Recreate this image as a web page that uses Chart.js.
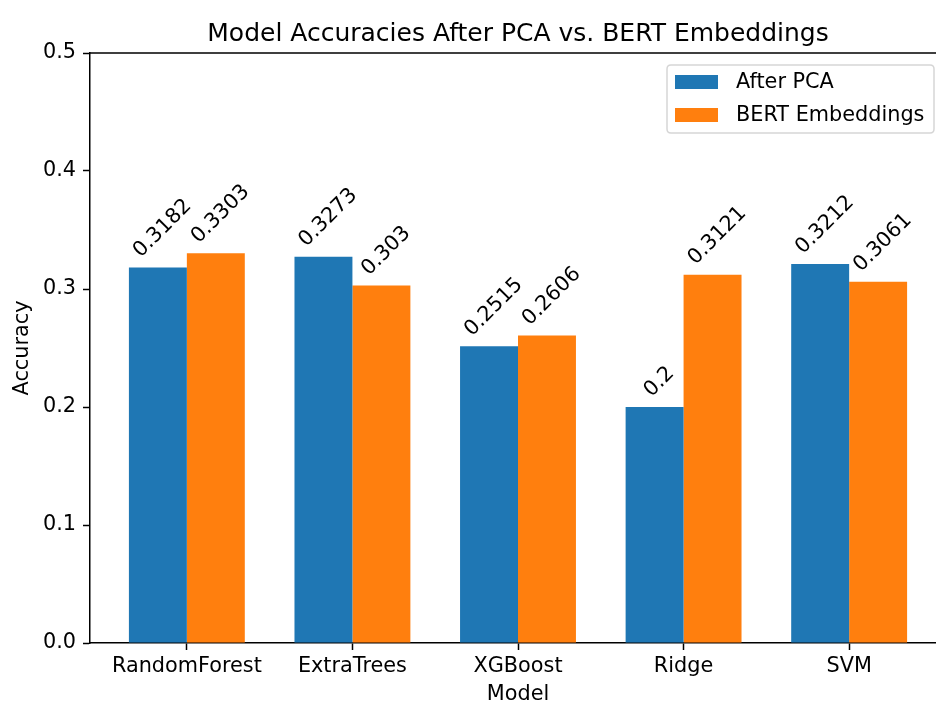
<!DOCTYPE html>
<html>
<head>
<meta charset="utf-8">
<script src="https://cdn.jsdelivr.net/npm/chart.js@4/dist/chart.umd.min.js"></script>
<style>
  html, body { margin: 0; padding: 0; background: #fff; overflow: hidden; width: 936px; height: 704px; }
  canvas { display: block; }
</style>
</head>
<body>
<canvas id="c" width="960" height="704" style="width:960px;height:704px"></canvas>
<script>
const categories = ['RandomForest', 'ExtraTrees', 'XGBoost', 'Ridge', 'SVM'];
const afterPCA = [0.3182, 0.3273, 0.2515, 0.2, 0.3212];
const bertEmbeddings = [0.3303, 0.303, 0.2606, 0.3121, 0.3061];
const seriesNames = ['After PCA', 'BERT Embeddings'];
const yTicks = [0.0, 0.1, 0.2, 0.3, 0.4, 0.5];
const titleText = 'Model Accuracies After PCA vs. BERT Embeddings';
const xTitle = 'Model';
const yTitle = 'Accuracy';

const FONT = '"DejaVu Sans", sans-serif';
const FS = 20.8;
const TFS = 25;
const colors = ['#1f77b4', '#ff7f0e'];

const overlay = {
  id: 'overlay',
  afterDraw(chart) {
    const ctx = chart.ctx;
    const a = chart.chartArea;
    ctx.save();
    ctx.strokeStyle = '#000';
    ctx.lineWidth = 1.5;
    ctx.beginPath();
    ctx.moveTo(a.left, a.top);
    ctx.lineTo(a.right, a.top);
    ctx.lineTo(a.right, a.bottom);
    ctx.stroke();

    ctx.fillStyle = '#000';
    ctx.font = TFS + 'px ' + FONT;
    ctx.textAlign = 'center';
    ctx.textBaseline = 'alphabetic';
    ctx.fillText(titleText, (a.left + a.right) / 2, 41);

    ctx.font = FS + 'px ' + FONT;
    ctx.fillText(xTitle, (a.left + a.right) / 2, 700);
    ctx.save();
    ctx.translate(28, (a.top + a.bottom) / 2);
    ctx.rotate(-Math.PI / 2);
    ctx.fillText(yTitle, 0, 0);
    ctx.restore();

    ctx.font = FS + 'px ' + FONT;
    chart.data.datasets.forEach((ds, di) => {
      const meta = chart.getDatasetMeta(di);
      meta.data.forEach((bar, i) => {
        const txt = String(ds.data[i].y);
        const w = ctx.measureText(txt).width;
        const h = 1.164 * FS;
        const D = (w + h) / Math.SQRT2;
        const cy = bar.y - 6 - D / 2;
        ctx.save();
        ctx.translate(bar.x + 3.5, cy);
        ctx.rotate(-Math.PI / 4);
        ctx.textAlign = 'center';
        ctx.textBaseline = 'alphabetic';
        ctx.fillText(txt, 0, 0.346 * FS);
        ctx.restore();
      });
    });

    const lx = 667, ly = 65, lw = 267, lh = 68, r = 4;
    ctx.fillStyle = 'rgba(255,255,255,0.8)';
    ctx.strokeStyle = '#d6d6d6';
    ctx.lineWidth = 1.5;
    ctx.beginPath();
    ctx.moveTo(lx + r, ly);
    ctx.lineTo(lx + lw - r, ly);
    ctx.quadraticCurveTo(lx + lw, ly, lx + lw, ly + r);
    ctx.lineTo(lx + lw, ly + lh - r);
    ctx.quadraticCurveTo(lx + lw, ly + lh, lx + lw - r, ly + lh);
    ctx.lineTo(lx + r, ly + lh);
    ctx.quadraticCurveTo(lx, ly + lh, lx, ly + lh - r);
    ctx.lineTo(lx, ly + r);
    ctx.quadraticCurveTo(lx, ly, lx + r, ly);
    ctx.closePath();
    ctx.fill();
    ctx.stroke();
    ctx.font = FS + 'px ' + FONT;
    ctx.textAlign = 'left';
    ctx.textBaseline = 'middle';
    chart.data.datasets.forEach((ds, di) => {
      const yc = 82 + di * 33;
      ctx.fillStyle = ds.backgroundColor;
      ctx.fillRect(675, yc - 7, 43, 14);
      ctx.fillStyle = '#000';
      ctx.fillText(ds.label, 736, yc + 1);
    });
    ctx.restore();
  }
};

new Chart(document.getElementById('c'), {
  type: 'bar',
  data: {
    datasets: [
      { label: seriesNames[0], data: afterPCA.map((v, i) => ({ x: i, y: v })), backgroundColor: colors[0], borderWidth: 0 },
      { label: seriesNames[1], data: bertEmbeddings.map((v, i) => ({ x: i, y: v })), backgroundColor: colors[1], borderWidth: 0 }
    ]
  },
  options: {
    responsive: false,
    animation: false,
    devicePixelRatio: 1,
    categoryPercentage: 0.7,
    barPercentage: 1.0,
    layout: { padding: { top: 53, right: 14, bottom: 0, left: 0 } },
    plugins: { legend: { display: false }, title: { display: false }, tooltip: { enabled: false } },
    scales: {
      x: {
        type: 'linear',
        offset: false,
        min: -0.585,
        max: 4.585,
        afterBuildTicks: (s) => { s.ticks = categories.map((_, i) => ({ value: i })); },
        afterFit: (s) => { s.height = 61; },
        grid: { offset: false, drawOnChartArea: false, drawTicks: true, tickLength: 7, tickWidth: 1.5, tickColor: '#000' },
        border: { display: true, color: '#000', width: 1.5 },
        ticks: {
          padding: 4,
          color: '#000',
          font: { family: FONT, size: FS },
          maxRotation: 0,
          autoSkip: false,
          callback: (v) => categories[Math.round(v)] || ''
        }
      },
      y: {
        min: 0,
        max: 0.5,
        afterBuildTicks: (s) => { s.ticks = yTicks.map(v => ({ value: v })); },
        afterFit: (s) => { s.width = 90; },
        grid: { drawOnChartArea: false, drawTicks: true, tickLength: 7, tickWidth: 1.5, tickColor: '#000' },
        border: { display: true, color: '#000', width: 1.5 },
        ticks: {
          padding: 7,
          color: '#000',
          font: { family: FONT, size: FS },
          callback: (v) => Number(v).toFixed(1)
        }
      }
    }
  },
  plugins: [overlay]
});
</script>
</body>
</html>
